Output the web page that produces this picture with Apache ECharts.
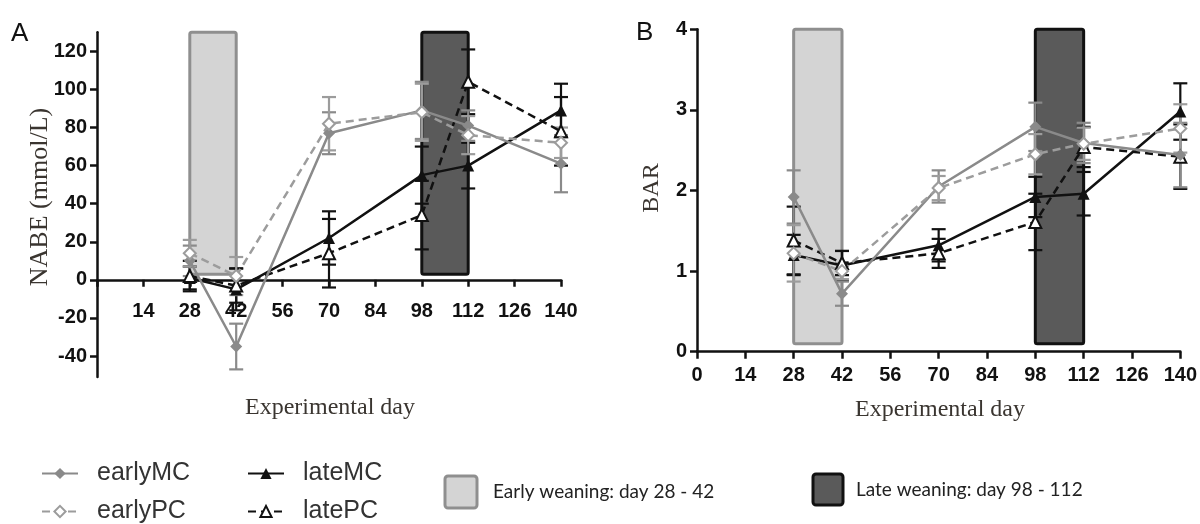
<!DOCTYPE html>
<html>
<head>
<meta charset="utf-8">
<script src="https://cdn.jsdelivr.net/npm/echarts@6/dist/echarts.min.js"></script>
<style>html,body{margin:0;padding:0;background:#fff;}#c{width:1200px;height:524px;}</style>
</head>
<body>
<div id="c"></div>
<script>
// ---- data ----
const days = [28, 42, 70, 98, 112, 140];
const nabeTicks = [-40, -20, 0, 20, 40, 60, 80, 100, 120];
const barTicks = [0, 1, 2, 3, 4];

// Panel A: NABE (mmol/L)
const nabeEarlyMC = [10, -35, 77, 89, 81, 61];
const nabeEarlyMCErr = [8, 12, 11, 15, 8, 15];
const nabeEarlyPC = [14, 2, 82, 88, 76, 72];
const nabeEarlyPCErr = [7, 10, 14, 15, 10, 8];
const nabeLateMC = [1, -5, 22, 55, 60, 89];
const nabeLateMCErr = [6, 11, 14, 15, 12, 14];
const nabeLatePC = [2, -3, 14, 34, 104, 78];
const nabeLatePCErr = [8, 9, 18, 18, 17, 18];

// Panel B: BAR
const barEarlyMC = [1.92, 0.72, 2.05, 2.79, 2.59, 2.44];
const barEarlyMCErr = [0.33, 0.15, 0.2, 0.3, 0.25, 0.4];
const barEarlyPC = [1.22, 1.0, 2.03, 2.45, 2.58, 2.77];
const barEarlyPCErr = [0.35, 0.1, 0.15, 0.25, 0.2, 0.3];
const barLateMC = [1.2, 1.07, 1.32, 1.92, 1.96, 2.98];
const barLateMCErr = [0.25, 0.18, 0.2, 0.25, 0.27, 0.35];
const barLatePC = [1.38, 1.1, 1.22, 1.61, 2.54, 2.42];
const barLatePCErr = [0.42, 0.15, 0.18, 0.35, 0.25, 0.4];

// weaning windows [startDay, endDay]
const earlyWeaning = [28, 42];
const lateWeaning = [98, 112];
// vertical extent of the weaning boxes in each panel [low, high]
const nabeBoxRange = [3, 130];
const barBoxRange = [0.1, 4.0];

// ---- styles ----
const GRAY = '#8a8a8a';
const GRAY2 = '#9c9c9c';
const BLACK = '#111111';
const DASH = [8, 5];

const chart = echarts.init(document.getElementById('c'), null, {renderer: 'canvas'});

function pairs(vals) { return days.map((d, i) => [d, vals[i]]); }
function errRows(vals, errs) { return days.map((d, i) => [d, vals[i], errs[i]]); }

function lineSeries(name, vals, gi, color, dashed, symbol) {
  return {
    name: name, type: 'line', xAxisIndex: gi, yAxisIndex: gi, z: 4,
    data: pairs(vals), symbol: symbol, symbolSize: 12, showSymbol: true,
    lineStyle: {color: color, width: 2.5, type: dashed ? DASH : 'solid'},
    itemStyle: {color: color, borderWidth: 2},
    emphasis: {disabled: true}, animation: false
  };
}

function errSeries(name, vals, errs, gi, color) {
  return {
    name: name, type: 'custom', xAxisIndex: gi, yAxisIndex: gi, z: 3,
    data: errRows(vals, errs), animation: false, silent: true,
    encode: {x: 0, y: 1},
    renderItem: function (params, api) {
      const x = api.value(0), y = api.value(1), e = api.value(2);
      const top = api.coord([x, y + e]);
      const bot = api.coord([x, y - e]);
      const w = 7;
      const st = {stroke: color, lineWidth: 2.2};
      return {type: 'group', children: [
        {type: 'line', shape: {x1: top[0], y1: top[1], x2: bot[0], y2: bot[1]}, style: st},
        {type: 'line', shape: {x1: top[0] - w, y1: top[1], x2: top[0] + w, y2: top[1]}, style: st},
        {type: 'line', shape: {x1: bot[0] - w, y1: bot[1], x2: bot[0] + w, y2: bot[1]}, style: st}
      ]};
    }
  };
}

function boxSeries(gi, range, yr, fill, stroke) {
  return {
    type: 'custom', xAxisIndex: gi, yAxisIndex: gi, z: 1, silent: true, animation: false,
    data: [[range[0], range[1], yr[0], yr[1]]],
    encode: {x: [0, 1], y: [2, 3]},
    renderItem: function (params, api) {
      const p1 = api.coord([api.value(0), api.value(3)]);
      const p2 = api.coord([api.value(1), api.value(2)]);
      return {type: 'rect', shape: {x: p1[0], y: p1[1], width: p2[0] - p1[0], height: p2[1] - p1[1], r: 2},
        style: {fill: fill, stroke: stroke, lineWidth: 3}};
    }
  };
}

const tickFont = {fontFamily: 'Liberation Sans', fontWeight: 'bold', fontSize: 20, color: BLACK};
const axisLine = {show: true, onZero: true, lineStyle: {color: BLACK, width: 2.5}};
const axisTick = {show: true, length: 7, lineStyle: {color: BLACK, width: 2.5}};

function legendOne(name, left, top) {
  return {data: [name], orient: 'horizontal', left: left, top: top, itemWidth: 36, itemHeight: 14,
    selectedMode: false, padding: 0,
    textStyle: {fontFamily: 'Liberation Sans', fontSize: 25, color: '#333', padding: [0, 0, 0, 14]}};
}

const option = {
  backgroundColor: '#ffffff',
  animation: false,
  grid: [
    {left: 97, top: 32.3, width: 464, height: 344.7},
    {left: 697, top: 29.3, width: 485, height: 322.4}
  ],
  xAxis: [
    {gridIndex: 0, type: 'value', min: 0, max: 140, interval: 14,
     axisLine: axisLine, axisTick: axisTick, splitLine: {show: false},
     axisLabel: Object.assign({margin: -76, formatter: v => (v === 0 ? '' : String(v))}, tickFont)},
    {gridIndex: 1, type: 'value', min: 0, max: 140, interval: 14,
     axisLine: axisLine, axisTick: axisTick, splitLine: {show: false},
     axisLabel: Object.assign({margin: 14}, tickFont)}
  ],
  yAxis: [
    {gridIndex: 0, type: 'value', min: -51, max: 130,
     axisLine: axisLine, axisTick: Object.assign({customValues: nabeTicks}, axisTick), splitLine: {show: false},
     axisLabel: Object.assign({margin: 10, customValues: nabeTicks}, tickFont)},
    {gridIndex: 1, type: 'value', min: 0, max: 4, interval: 1,
     axisLine: axisLine, axisTick: axisTick, splitLine: {show: false},
     axisLabel: Object.assign({margin: 10, customValues: barTicks}, tickFont)}
  ],
  legend: [
    legendOne('earlyMC', 41, 461),
    legendOne('earlyPC', 41, 499),
    legendOne('lateMC', 247, 461),
    legendOne('latePC', 247, 499)
  ],
  graphic: [
    {type: 'text', left: 11, top: 21, style: {text: 'A', font: '26px "Liberation Sans"', fill: BLACK}},
    {type: 'text', left: 636, top: 20, style: {text: 'B', font: '26px "Liberation Sans"', fill: BLACK}},
    {type: 'text', x: 40, y: 197, rotation: Math.PI / 2,
     style: {text: 'NABE (mmol/L)', font: '26px "Liberation Serif"', fill: '#3a3530', align: 'center', verticalAlign: 'middle'}},
    {type: 'text', x: 652, y: 188, rotation: Math.PI / 2,
     style: {text: 'BAR', font: '24px "Liberation Serif"', fill: '#3a3530', align: 'center', verticalAlign: 'middle'}},
    {type: 'text', x: 330, y: 408,
     style: {text: 'Experimental day', font: '24px "Liberation Serif"', fill: '#3a3530', align: 'center', verticalAlign: 'middle'}},
    {type: 'text', x: 940, y: 410,
     style: {text: 'Experimental day', font: '24px "Liberation Serif"', fill: '#3a3530', align: 'center', verticalAlign: 'middle'}},
    {type: 'rect', shape: {x: 445, y: 476, width: 32, height: 32, r: 3}, style: {fill: '#d4d4d4', stroke: '#8f8f8f', lineWidth: 3}},
    {type: 'text', x: 493, y: 492, style: {text: 'Early weaning: day 28 - 42', font: '19px Lato', fill: '#222', verticalAlign: 'middle'}},
    {type: 'rect', shape: {x: 813, y: 474, width: 30, height: 31, r: 3}, style: {fill: '#5a5a5a', stroke: BLACK, lineWidth: 3}},
    {type: 'text', x: 856, y: 490, style: {text: 'Late weaning: day 98 - 112', font: '19px Lato', fill: '#222', verticalAlign: 'middle'}}
  ],
  series: [
    boxSeries(0, earlyWeaning, nabeBoxRange, '#d4d4d4', '#8f8f8f'),
    boxSeries(0, lateWeaning, nabeBoxRange, '#5a5a5a', BLACK),
    boxSeries(1, earlyWeaning, barBoxRange, '#d4d4d4', '#8f8f8f'),
    boxSeries(1, lateWeaning, barBoxRange, '#5a5a5a', BLACK),

    errSeries('e1', nabeLateMC, nabeLateMCErr, 0, BLACK),
    errSeries('e2', nabeLatePC, nabeLatePCErr, 0, BLACK),
    errSeries('e3', nabeEarlyMC, nabeEarlyMCErr, 0, GRAY),
    errSeries('e4', nabeEarlyPC, nabeEarlyPCErr, 0, GRAY2),
    lineSeries('lateMC', nabeLateMC, 0, BLACK, false, 'triangle'),
    lineSeries('latePC', nabeLatePC, 0, BLACK, true, 'emptyTriangle'),
    lineSeries('earlyMC', nabeEarlyMC, 0, GRAY, false, 'diamond'),
    lineSeries('earlyPC', nabeEarlyPC, 0, GRAY2, true, 'emptyDiamond'),

    errSeries('f1', barLateMC, barLateMCErr, 1, BLACK),
    errSeries('f2', barLatePC, barLatePCErr, 1, BLACK),
    errSeries('f3', barEarlyMC, barEarlyMCErr, 1, GRAY),
    errSeries('f4', barEarlyPC, barEarlyPCErr, 1, GRAY2),
    lineSeries('lateMC', barLateMC, 1, BLACK, false, 'triangle'),
    lineSeries('latePC', barLatePC, 1, BLACK, true, 'emptyTriangle'),
    lineSeries('earlyMC', barEarlyMC, 1, GRAY, false, 'diamond'),
    lineSeries('earlyPC', barEarlyPC, 1, GRAY2, true, 'emptyDiamond')
  ]
};
chart.setOption(option);
</script>
</body>
</html>
